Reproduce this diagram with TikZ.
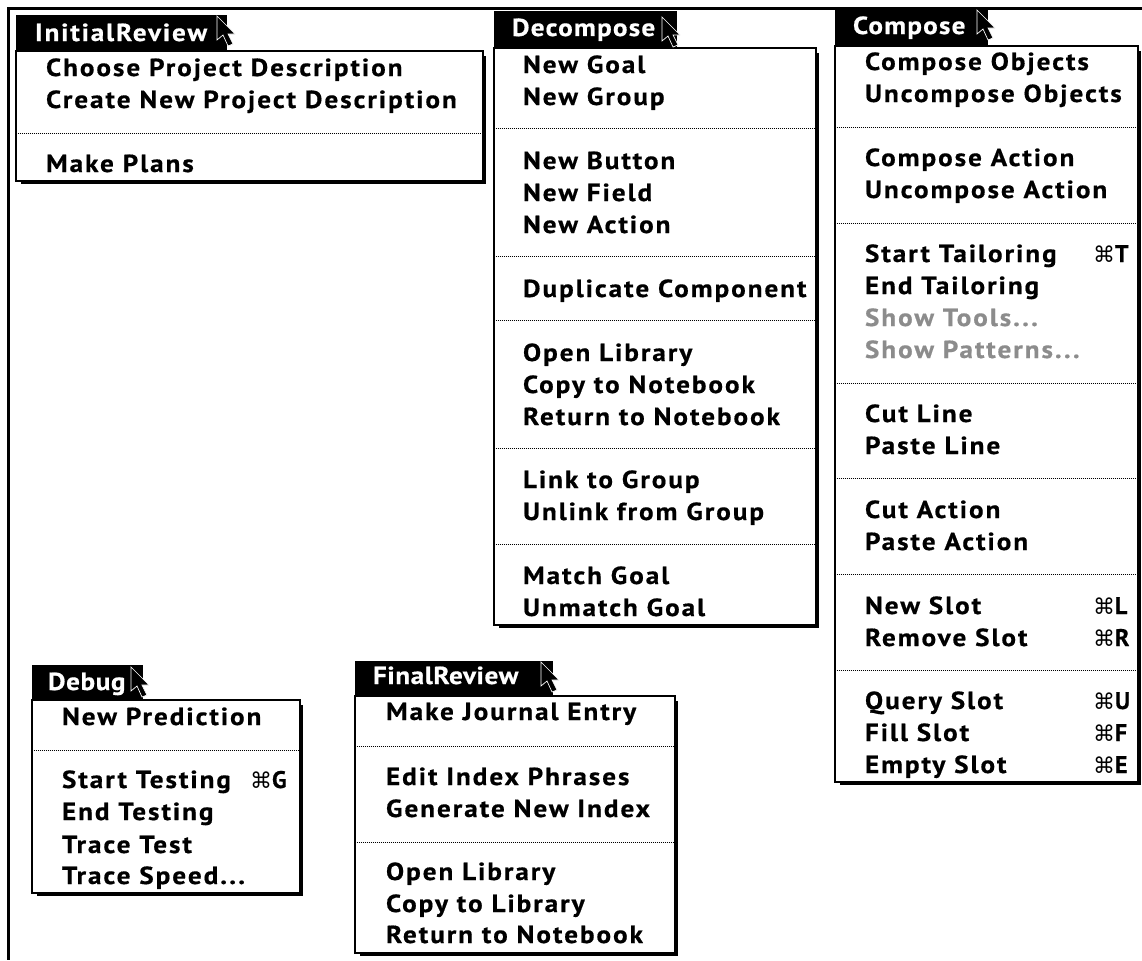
\documentclass[tikz,border=0pt]{standalone}
\usepackage{fontspec}
\setmainfont{PT Sans}
\newfontfamily\menufont[LetterSpace=8,FakeStretch=1.1,FakeBold=0.6]{PT Sans Bold}
\newfontfamily\titleA[LetterSpace=7.5,FakeStretch=1.1,FakeBold=0.6]{PT Sans Bold}
\newfontfamily\titleB[LetterSpace=5,FakeStretch=1.1,FakeBold=0.6]{PT Sans Bold}
\newfontfamily\titleC[LetterSpace=2.5,FakeStretch=1.1,FakeBold=0.6]{PT Sans Bold}
\newfontfamily\keyfont[FakeBold=0.6]{PT Sans Bold}
\newfontfamily\symfont{DejaVu Sans}
\tikzset{
  every node/.style={inner sep=0pt,outer sep=0pt},
  item/.style={anchor=base west,text=black,font=\menufont\fontsize{18.5}{20}\selectfont},
  dim/.style={item,text=black!45},
  ttl/.style={item,text=white},
  key/.style={anchor=base west,text=black,font=\keyfont\fontsize{18}{20}\selectfont},
  panel/.style={draw=black,fill=white,line width=1.2pt},
  shade/.style={fill=black},
  bar/.style={fill=black},
  sep/.style={black,line width=0.75pt,dash pattern=on 0.75pt off 0.75pt},
  frame/.style={black,line width=2.3pt},
  arrowcur/.style={fill=black,draw=white,line width=0.5pt,line join=miter}
}
\newcommand{\cmd}{{\symfont\fontsize{16.5}{18}\selectfont\char"2318}}
\newcommand{\curs}[2]{\path[arrowcur,shift={(#1,#2)}] (0,0)--(0,24)--(6,19)--(11,30)--(16,28)--(11,18)--(18,18)--cycle;}
\newcommand{\menu}[9]{% name, bar x0,y0,x1, body y0, body x1,y1
  \fill[shade] (#2+5,#5+5) rectangle (#6+3,#7+3);
  \path[panel] (#2,#5) rectangle (#6,#7);
  \fill[bar] (#2,#3) rectangle (#4,#5+1);
  \node[ttl] (#1title) at (#8,#9) {\csname t#1\endcsname};
}
\newcommand{\sepl}[3]{\draw[sep] (#1+1.5,#3) -- (#2-1.5,#3);}
\begin{document}
\begin{tikzpicture}[x=0.75pt,y=-0.75pt]
\useasboundingbox (0,0) rectangle (1142,960);
\fill[white] (0,0) rectangle (1142,960);
\draw[frame] (1142,8.5) -- (8.5,8.5) -- (8.5,960);
% InitialReview
\expandafter\def\csname tini\endcsname{\titleA InitialReview}
\menu{ini}{16}{15}{227}{51}{483}{181}{35}{41}
\curs{217}{16}
\node[item] (i1) at (46,76) {Choose Project Description};
\node[item] (i2) at (46,108) {Create New Project Description};
\sepl{16}{483}{133.5}
\node[item] (i3) at (46,172) {Make Plans};
% Decompose
\expandafter\def\csname tdec\endcsname{\titleB Decompose}
\menu{dec}{494}{11}{677}{48}{816}{625}{512}{36}
\curs{662}{17}
\node[item] (d1) at (523,73) {New Goal};
\node[item] (d2) at (523,105) {New Group};
\sepl{494}{816}{128}
\node[item] (d3) at (523,169) {New Button};
\node[item] (d4) at (523,201) {New Field};
\node[item] (d5) at (523,233) {New Action};
\sepl{494}{816}{256}
\node[item] (d6) at (523,297) {Duplicate Component};
\sepl{494}{816}{320}
\node[item] (d7) at (523,361) {Open Library};
\node[item] (d8) at (523,393) {Copy to Notebook};
\node[item] (d9) at (523,425) {Return to Notebook};
\sepl{494}{816}{448}
\node[item] (d10) at (523,488) {Link to Group};
\node[item] (d11) at (523,520) {Unlink from Group};
\sepl{494}{816}{544}
\node[item] (d12) at (523,584) {Match Goal};
\node[item] (d13) at (523,616) {Unmatch Goal};
% Compose
\expandafter\def\csname tcom\endcsname{\titleB Compose}
\menu{com}{835}{10}{988}{46}{1138}{782}{853}{34}
\curs{977}{10}
\node[item] (c1) at (865,70) {Compose Objects};
\node[item] (c2) at (865,102) {Uncompose Objects};
\sepl{835}{1138}{127}
\node[item] (c3) at (865,166) {Compose Action};
\node[item] (c4) at (865,198) {Uncompose Action};
\sepl{835}{1138}{223}
\node[item] (c5) at (865,262) {Start Tailoring};
\node[key] (k1) at (1093,262) {\cmd T};
\node[item] (c6) at (865,294) {End Tailoring};
\node[dim] (c7) at (865,326) {Show Tools...};
\node[dim] (c8) at (865,358) {Show Patterns...};
\sepl{835}{1138}{383}
\node[item] (c9) at (865,422) {Cut Line};
\node[item] (c10) at (865,454) {Paste Line};
\sepl{835}{1138}{478}
\node[item] (c11) at (865,518) {Cut Action};
\node[item] (c12) at (865,550) {Paste Action};
\sepl{835}{1138}{574}
\node[item] (c13) at (865,614) {New Slot};
\node[key] (k2) at (1093,614) {\cmd L};
\node[item] (c14) at (865,646) {Remove Slot};
\node[key] (k3) at (1093,646) {\cmd R};
\sepl{835}{1138}{670}
\node[item] (c15) at (865,709) {Query Slot};
\node[key] (k4) at (1093,709) {\cmd U};
\node[item] (c16) at (865,741) {Fill Slot};
\node[key] (k5) at (1093,741) {\cmd F};
\node[item] (c17) at (865,773) {Empty Slot};
\node[key] (k6) at (1093,773) {\cmd E};
% Debug
\expandafter\def\csname tdeb\endcsname{\titleC Debug}
\menu{deb}{32}{665}{143}{700}{300}{893}{48}{690}
\curs{131}{667}
\node[item] (b1) at (62,725) {New Prediction};
\sepl{32}{300}{750}
\node[item] (b2) at (62,788) {Start Testing};
\node[key] (k7) at (250,788) {\cmd G};
\node[item] (b3) at (62,820) {End Testing};
\node[item] (b4) at (62,853) {Trace Test};
\node[item] (b5) at (62,884) {Trace Speed...};
% FinalReview
\expandafter\def\csname tfin\endcsname{\titleC FinalReview}
\menu{fin}{355}{661}{553}{696}{675}{953}{373}{684}
\curs{541}{662}
\node[item] (f1) at (386,720) {Make Journal Entry};
\sepl{355}{675}{746}
\node[item] (f2) at (386,785) {Edit Index Phrases};
\node[item] (f3) at (386,817) {Generate New Index};
\sepl{355}{675}{842}
\node[item] (f4) at (386,880) {Open Library};
\node[item] (f5) at (386,912) {Copy to Library};
\node[item] (f6) at (386,943) {Return to Notebook};
\end{tikzpicture}
\end{document}
